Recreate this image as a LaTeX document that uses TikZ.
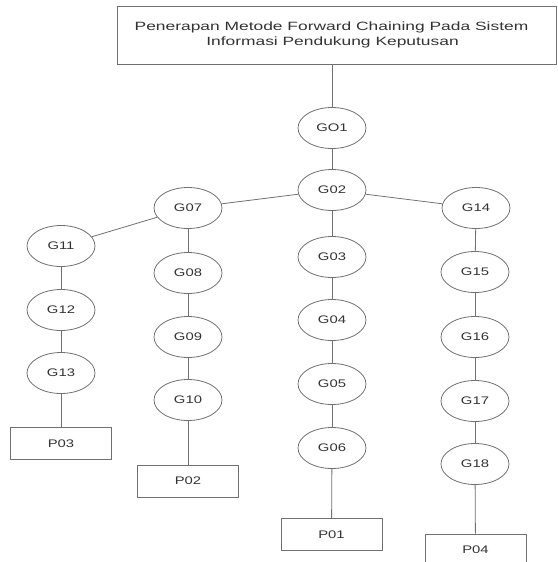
\documentclass[tikz,border=0pt]{standalone}
\usepackage{fontspec}
\setmainfont{Liberation Sans}
\newfontfamily\labelfont{Liberation Sans}[FakeStretch=1.35]
\newfontfamily\titlefont{Liberation Sans}[FakeStretch=1.45]
\usepackage{tikz}
\usetikzlibrary{positioning}
\usetikzlibrary{shapes.geometric}
\pgfdeclarelayer{nodelayer}
\pgfdeclarelayer{edgelayer}
\pgfsetlayers{edgelayer,nodelayer,main}
\definecolor{linegray}{HTML}{707070}
\definecolor{textgray}{HTML}{333333}
\tikzset{
    goal/.style = {ellipse, draw=linegray, line width=0.8pt, text=textgray,
                   minimum width=68pt, minimum height=41pt, inner sep=0pt,
                   font=\labelfont\fontsize{11}{13}\selectfont},
    result/.style = {rectangle, draw=linegray, line width=0.8pt, text=textgray,
                     minimum width=101pt, minimum height=32pt, inner sep=0pt,
                     font=\labelfont\fontsize{11}{13}\selectfont},
    titlebox/.style = {rectangle, draw=linegray, line width=0.8pt, text=textgray,
                       minimum width=439pt, minimum height=58pt, inner sep=0pt,
                       align=center, font=\titlefont\fontsize{12}{14.5}\selectfont},
    link/.style = {draw=linegray, line width=0.8pt}
}

\begin{document}
\begin{tikzpicture}[x=1pt, y=-1pt]
  \useasboundingbox (0, 0) rectangle (557, 562);
  \begin{pgfonlayer}{nodelayer}
    \node [titlebox] (title) at (336.5, 35) {Penerapan Metode Forward Chaining Pada Sistem\hspace*{10pt}\\Informasi Pendukung Keputusan\hspace*{8pt}};
    \node [goal] (g01) at (332, 128) {GO1};
    \node [goal] (g02) at (332, 190) {G02};
    \node [goal] (g07) at (188, 208) {G07};
    \node [goal] (g14) at (476, 208) {G14};
    % left branch
    \node [goal] (g11) at (61, 246) {G11};
    \node [goal] (g12) at (61, 310) {G12};
    \node [goal] (g13) at (61, 373) {G13};
    \node [result] (p03) at (61, 443.5) {P03};
    % second branch
    \node [goal] (g08) at (188, 273) {G08};
    \node [goal] (g09) at (188, 337) {G09};
    \node [goal] (g10) at (188, 400) {G10};
    \node [result] (p02) at (188, 481) {P02};
    % middle branch
    \node [goal] (g03) at (332, 257) {G03};
    \node [goal] (g04) at (332, 320) {G04};
    \node [goal] (g05) at (332, 384) {G05};
    \node [goal] (g06) at (332, 448) {G06};
    \node [result] (p01) at (331.5, 534.5) {P01};
    % right branch
    \node [goal] (g15) at (475, 272) {G15};
    \node [goal] (g16) at (475, 337) {G16};
    \node [goal] (g17) at (475, 401) {G17};
    \node [goal] (g18) at (475, 464) {G18};
    \node [result] (p04) at (475.5, 550) {P04};
  \end{pgfonlayer}
  \begin{pgfonlayer}{edgelayer}
    \draw [link] (g01) to (g01 |- title.south);
    \draw [link] (g01) to (g02);
    \draw [link] (g02) to (g07);
    \draw [link] (g02) to (g14);
    \draw [link] (g02) to (g03);
    \draw [link] (g07) to (g11);
    \draw [link] (g07) to (g08);
    \draw [link] (g11) to (g12);
    \draw [link] (g12) to (g13);
    \draw [link] (g13) to (p03);
    \draw [link] (g08) to (g09);
    \draw [link] (g09) to (g10);
    \draw [link] (g10) to (p02);
    \draw [link] (g03) to (g04);
    \draw [link] (g04) to (g05);
    \draw [link] (g05) to (g06);
    \draw [link] (g06) to (p01);
    \draw [link] (g14) to (g15);
    \draw [link] (g15) to (g16);
    \draw [link] (g16) to (g17);
    \draw [link] (g17) to (g18);
    \draw [link] (g18) to (p04);
  \end{pgfonlayer}
\end{tikzpicture}
\end{document}
